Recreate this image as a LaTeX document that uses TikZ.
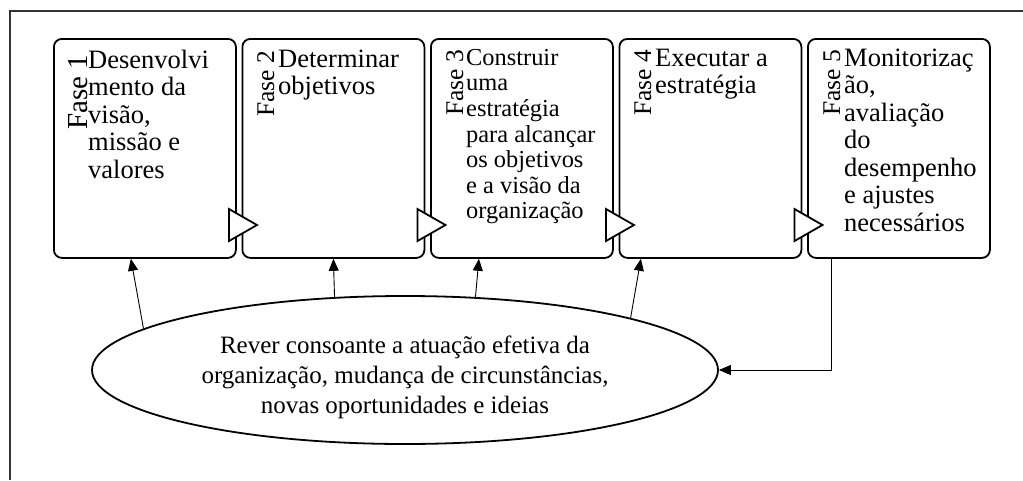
\documentclass[tikz,border=0pt]{standalone}
\usepackage{fontspec}
\setmainfont{Liberation Serif}
\usetikzlibrary{arrows.meta,shapes.geometric,calc}
\newcommand{\topstrut}{\rule{0pt}{20pt}}
\begin{document}
\begin{tikzpicture}[x=1pt,y=-1pt,
  phasebox/.style={draw, line width=1.8pt, rounded corners=8pt, minimum width=182pt, minimum height=219pt, inner sep=0pt, anchor=north west},
  bodytext/.style={anchor=north west, align=left, inner sep=0pt, font=\fontsize{26.5pt}{27.5pt}\selectfont},
  smalltext/.style={anchor=north west, align=left, inner sep=0pt, font=\fontsize{24.4pt}{25.6pt}\selectfont},
  phaselabel/.style={anchor=base west, rotate=90, inner sep=0pt, font=\fontsize{25.5pt}{27pt}\selectfont},
  flow/.style={draw, fill=white, line width=1.8pt, line join=miter},
  conn/.style={line width=0.9pt, -{Triangle[length=12pt,width=10pt]}},
  frameline/.style={line width=1.4pt, draw=black!80}
]
\useasboundingbox (0,0) rectangle (1023,480);
\draw[frameline] (10,480) -- (10,11) -- (1023,11);

% phase boxes
\node[phasebox] (b1) at (53,38) {};
\node[phasebox] (b2) at (241.5,38) {};
\node[phasebox] (b3) at (430,38) {};
\node[phasebox] (b4) at (618.5,38) {};
\node[phasebox] (b5) at (807,38) {};

% flow triangles
\foreach \r in {235,423.5,612,800.5}{
  \draw[flow] (\r-6,209) -- (\r+22,225) -- (\r-6,241) -- cycle;
}

% phase labels
\node[phaselabel, font=\fontsize{29pt}{30pt}\selectfont] (f1) at (87,130) {Fase 1};
\node[phaselabel] (f2) at (274,117) {Fase 2};
\node[phaselabel] (f3) at (463,116) {Fase 3};
\node[phaselabel] (f4) at (651,116) {Fase 4};
\node[phaselabel] (f5) at (840,116) {Fase 5};

% body texts (first baseline = y + 20)
\node[bodytext] (t1) at (88,48) {\topstrut Desenvolvi\\mento da\\visão,\\missão e\\valores};
\node[bodytext] (t2) at (278,47) {\topstrut Determinar\\objetivos};
\node[smalltext] (t3) at (466,45) {\topstrut Construir\\uma\\estratégia\\para alcançar\\os objetivos\\e a visão da\\organização};
\node[bodytext] (t4) at (655,46) {\topstrut Executar a\\estratégia};
\node[bodytext] (t5) at (844,46) {\topstrut Monitorizaç\\ão,\\avaliação\\do\\desempenho\\e ajustes\\necessários};

% review ellipse
\node[ellipse, draw, line width=1.8pt, minimum width=626pt, minimum height=148pt, inner sep=0pt] (ell) at (405,370) {};
\node[anchor=north, align=center, inner sep=0pt, font=\fontsize{25pt}{30pt}\selectfont] (et) at (405,333)
  {\topstrut Rever consoante a atuação efetiva da\\organização, mudança de circunstâncias,\\novas oportunidades e ideias};

% connectors
\draw[conn] (ell.171) -- ($(b1.south)+(-14,0)$);
\draw[conn] (ell.134.6) -- (b2.south);
\draw[conn] (ell.46.6) -- ($(b3.south)+(-43,0)$);
\draw[conn] (ell.13.6) -- ($(b4.south)+(-69.5,0)$);
\draw[conn] ($(b5.south)+(-67,0)$) |- (ell.east);
\end{tikzpicture}
\end{document}
